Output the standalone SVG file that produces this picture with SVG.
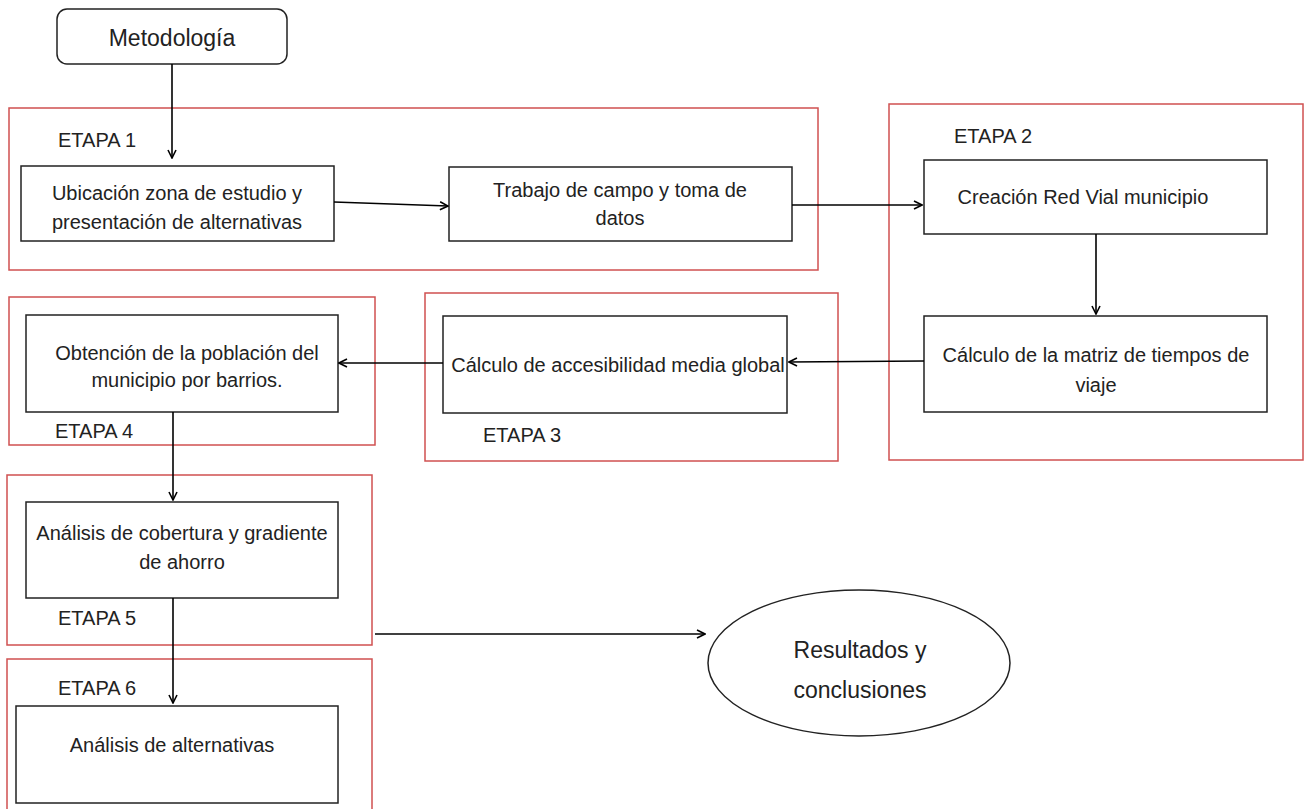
<svg xmlns="http://www.w3.org/2000/svg" width="1305" height="809" viewBox="0 0 1305 809">
<defs>
<marker id="ah" viewBox="0 0 10 10" refX="9" refY="5" markerWidth="10" markerHeight="10" markerUnits="userSpaceOnUse" orient="auto">
<path d="M1,1 L9,5 L1,9" fill="none" stroke="#000" stroke-width="1.6"/>
</marker>
<style>
.stage{fill:none;stroke:#d05050;stroke-width:1.5}
.box{fill:#fff;stroke:#222;stroke-width:1.5}
.t{font-family:"Liberation Sans",Arial,sans-serif;font-size:20px;fill:#222;text-anchor:middle}
.lab{font-family:"Liberation Sans",Arial,sans-serif;font-size:20px;fill:#222}
.c{fill:none;stroke:#000;stroke-width:1.6;marker-end:url(#ah)}
</style>
</defs>
<rect width="1305" height="809" fill="#fff"/>
<g id="stage1"><rect class="stage" x="9" y="108" width="809" height="162"/><text class="lab" x="58" y="147">ETAPA 1</text></g>
<g id="stage2"><rect class="stage" x="889" y="104" width="414" height="356"/><text class="lab" x="954" y="143">ETAPA 2</text></g>
<g id="stage3"><rect class="stage" x="425" y="293" width="413" height="168"/><text class="lab" x="483" y="442">ETAPA 3</text></g>
<g id="stage4"><rect class="stage" x="9" y="297" width="366" height="148"/><text class="lab" x="55" y="438">ETAPA 4</text></g>
<g id="stage5"><rect class="stage" x="7" y="475" width="365" height="170"/><text class="lab" x="58" y="625">ETAPA 5</text></g>
<g id="stage6"><rect class="stage" x="7" y="659" width="365" height="160"/><text class="lab" x="58" y="695">ETAPA 6</text></g>

<g id="metodologia"><rect class="box" x="57" y="9" width="230" height="55" rx="10"/><text class="t" x="172" y="46" style="font-size:23px">Metodología</text></g>
<g id="ubicacion"><rect class="box" x="21" y="166" width="313" height="75"/><text class="t" x="177" y="200">Ubicación zona de estudio y</text><text class="t" x="177" y="229">presentación de alternativas</text></g>
<g id="trabajo"><rect class="box" x="449" y="167" width="343" height="74"/><text class="t" x="620" y="197">Trabajo de campo y toma de</text><text class="t" x="620" y="225">datos</text></g>
<g id="red"><rect class="box" x="924" y="160" width="343" height="74"/><text class="t" x="1083" y="204">Creación Red Vial municipio</text></g>
<g id="matriz"><rect class="box" x="924" y="316" width="343" height="96"/><text class="t" x="1096" y="362">Cálculo de la matriz de tiempos de</text><text class="t" x="1096" y="392">viaje</text></g>
<g id="accesibilidad"><rect class="box" x="443" y="316" width="344" height="97"/><text class="t" x="618" y="372">Cálculo de accesibilidad media global</text></g>
<g id="poblacion"><rect class="box" x="26" y="315" width="312" height="97"/><text class="t" x="187" y="360">Obtención de la población del</text><text class="t" x="187" y="387">municipio por barrios.</text></g>
<g id="cobertura"><rect class="box" x="26" y="502" width="312" height="96"/><text class="t" x="182" y="540">Análisis de cobertura y gradiente</text><text class="t" x="182" y="569">de ahorro</text></g>
<g id="alternativas"><rect class="box" x="16" y="706" width="322" height="97"/><text class="t" x="172" y="752">Análisis de alternativas</text></g>
<g id="resultados"><ellipse class="box" cx="859" cy="663" rx="151" ry="73"/><text class="t" x="860" y="658" style="font-size:23px">Resultados y</text><text class="t" x="860" y="698" style="font-size:23px">conclusiones</text></g>

<g id="connectors">
<path class="c" d="M172,64 L172,158"/>
<path class="c" d="M334,202 L448,206"/>
<path class="c" d="M792,205 L922,205"/>
<path class="c" d="M1096,234 L1096,314"/>
<path class="c" d="M924,361 L789,362"/>
<path class="c" d="M443,363 L339,363"/>
<path class="c" d="M173,412 L173,500"/>
<path class="c" d="M173,598 L173,703"/>
<path class="c" d="M375,634 L705,634"/>
</g>
</svg>
